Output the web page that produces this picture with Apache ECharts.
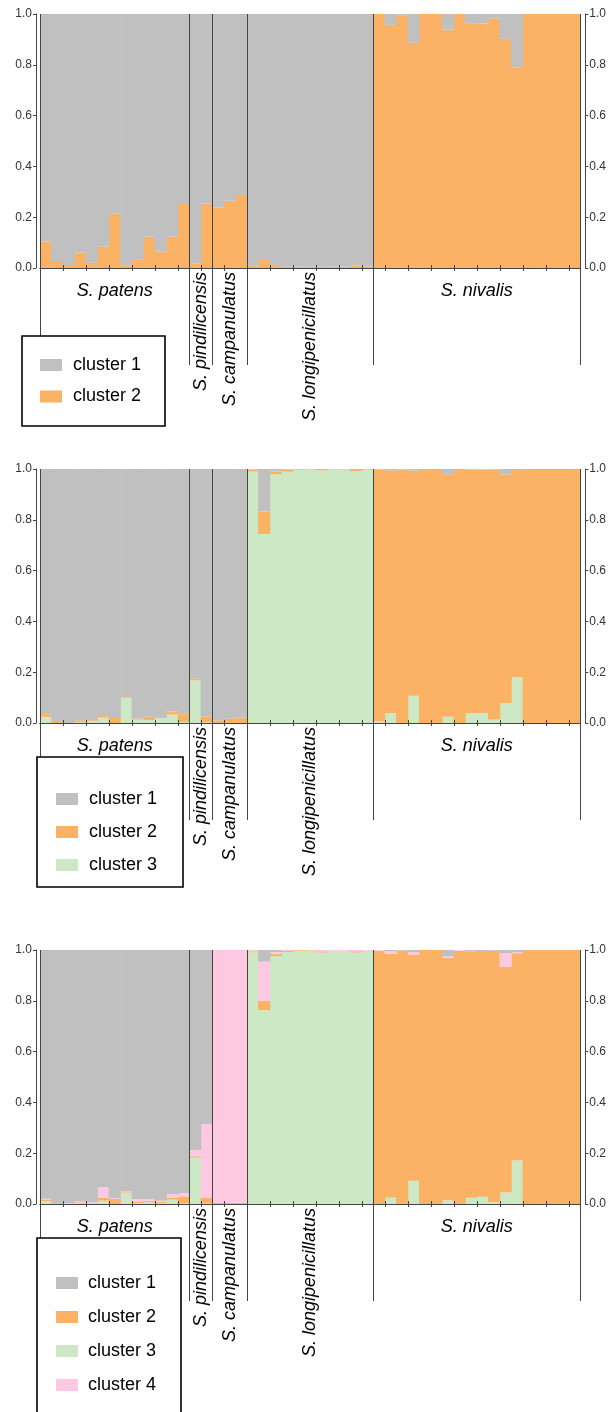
<!DOCTYPE html>
<html>
<head>
<meta charset="utf-8">
<script src="https://cdn.jsdelivr.net/npm/echarts@6/dist/echarts.min.js"></script>
<style>
html,body{margin:0;padding:0;background:#fff;}
#chart{width:609px;height:1412px;}
</style>
</head>
<body>
<div id="chart"></div>
<script>
// ---------- DATA ----------
const groupNames = ["S. patens", "S. pindilicensis", "S. campanulatus", "S. longipenicillatus", "S. nivalis"];
const groupSizes = [13, 2, 3, 11, 18];
const clusterNames = ["cluster 1", "cluster 2", "cluster 3", "cluster 4"];
const yTicks = [0, 0.2, 0.4, 0.6, 0.8, 1.0];

// K = 2
const A_c1 = [0.896,0.972,0.988,0.940,0.979,0.916,0.786,0.989,0.965,0.877,0.936,0.877,0.744, 0.983,0.747, 0.761,0.735,0.713, 0.991,0.965,0.992,0.995,0.995,0.995,0.995,0.995,0.995,0.990,0.995, 0,0.043,0.005,0.114,0,0,0.062,0,0.039,0.038,0.017,0.098,0.210,0,0,0,0,0];
const A_c2 = [0.104,0.028,0.012,0.060,0.021,0.084,0.214,0.011,0.035,0.123,0.064,0.123,0.256, 0.017,0.253, 0.239,0.265,0.287, 0.009,0.035,0.008,0.005,0.005,0.005,0.005,0.005,0.005,0.010,0.005, 1,0.957,0.995,0.886,1,1,0.938,1,0.961,0.962,0.983,0.902,0.790,1,1,1,1,1];

// K = 3
const B_c1 = [0.965,0.996,1,0.989,0.989,0.969,0.980,0.899,0.982,0.975,0.976,0.955,0.965, 0.826,0.975, 0.990,0.983,0.979, 0.002,0.168,0.010,0.003,0,0,0,0,0,0,0, 0.002,0.006,0.003,0.006,0,0,0.021,0,0.003,0.002,0.002,0.022,0.004,0,0,0,0,0];
const B_c2 = [0.011,0.004,0,0.007,0.003,0.010,0.020,0.003,0.005,0.013,0.004,0.012,0.031, 0.007,0.022, 0.010,0.017,0.021, 0.008,0.088,0.010,0.008,0.003,0.002,0.005,0.002,0.002,0.008,0.003, 0.992,0.956,0.997,0.887,1,1,0.954,1,0.960,0.959,0.984,0.900,0.816,1,1,1,1,1];
const B_c3 = [0.024,0,0,0.004,0.008,0.021,0,0.098,0.013,0.012,0.020,0.033,0.004, 0.167,0.003, 0,0,0, 0.990,0.744,0.980,0.989,0.997,0.998,0.995,0.998,0.998,0.992,0.997, 0.006,0.038,0,0.107,0,0,0.025,0,0.037,0.039,0.014,0.078,0.180,0,0,0,0,0];

// K = 4
const C_c1 = [0.979,0.997,0.996,0.990,0.993,0.934,0.977,0.951,0.980,0.980,0.987,0.962,0.958, 0.787,0.685, 0,0,0, 0,0.046,0.009,0,0,0,0,0,0,0,0, 0,0.004,0.003,0.009,0,0,0.026,0,0.006,0.004,0.003,0.012,0.010,0,0,0,0,0];
const C_c2 = [0.008,0.003,0,0.004,0,0.011,0.020,0.003,0.007,0.006,0.005,0.007,0.028, 0.006,0.024, 0.005,0.005,0.005, 0.004,0.037,0.008,0.004,0.003,0.002,0.005,0,0,0.005,0, 0.997,0.959,0.997,0.890,1,1,0.954,0.997,0.969,0.967,0.990,0.889,0.816,1,1,1,1,1];
const C_c3 = [0.010,0,0,0.003,0,0.013,0,0.043,0.003,0.007,0.004,0.017,0.002, 0.182,0.002, 0,0,0, 0.991,0.763,0.976,0.992,0.997,0.998,0.990,0.997,0.997,0.990,0.997, 0,0.026,0,0.092,0,0,0.015,0,0.025,0.029,0.007,0.045,0.171,0,0,0,0,0];
const C_c4 = [0.003,0,0.004,0.003,0.007,0.042,0.003,0.003,0.010,0.007,0.004,0.014,0.012, 0.025,0.289, 0.995,0.995,0.995, 0.005,0.154,0.007,0.004,0,0,0.005,0.003,0.003,0.005,0.003, 0.003,0.011,0,0.009,0,0,0.005,0.003,0,0,0,0.054,0.003,0,0,0,0,0];

// ---------- STYLE / LAYOUT ----------
const colors = {"cluster 1": "#c0c0c0", "cluster 2": "#fbb264", "cluster 3": "#cce8c4", "cluster 4": "#fdc8e2"};
const FONT = "'Liberation Sans', Arial, Helvetica, sans-serif";
const AX = "#444";

const individuals = [];
{ let n = groupSizes.reduce((a,b)=>a+b,0); for (let i = 1; i <= n; i++) individuals.push(String(i)); }

// stacking from bottom to top
const panels = [
  { top: 14,  stack: [["cluster 2", A_c2], ["cluster 1", A_c1]],
    legend: {x: 22, y: 336, w: 143, h: 90, sx: 40, tx: 73, y0: 365, step: 31.5, n: 2} },
  { top: 469, stack: [["cluster 3", B_c3], ["cluster 2", B_c2], ["cluster 1", B_c1]],
    legend: {x: 37, y: 757, w: 146, h: 130, sx: 56, tx: 89, y0: 799, step: 33, n: 3} },
  { top: 950, stack: [["cluster 3", C_c3], ["cluster 2", C_c2], ["cluster 4", C_c4], ["cluster 1", C_c1]],
    legend: {x: 37, y: 1238, w: 144, h: 190, sx: 56, tx: 88, y0: 1283, step: 34, n: 4} }
];
const PH = 254;

const grid = [], xAxis = [], yAxis = [], series = [];
panels.forEach((p, k) => {
  grid.push({ left: 40, right: 27, top: p.top, height: PH });
});
panels.forEach((p, k) => {
  xAxis.push({ type: 'category', gridIndex: k, data: individuals, position: 'bottom',
    boundaryGap: true, z: 10,
    axisLine: { show: true, lineStyle: { color: AX, width: 1 } },
    axisTick: { show: true, inside: true, length: 3, lineStyle: { color: AX } },
    axisLabel: { show: false }, splitLine: { show: false } });
});
panels.forEach((p, k) => {
  xAxis.push({ type: 'category', gridIndex: k, data: individuals, position: 'top',
    boundaryGap: true, z: 10,
    axisLine: { show: true, lineStyle: { color: AX, width: 1 } },
    axisTick: { show: true, inside: true, length: 3, lineStyle: { color: AX } },
    axisLabel: { show: false }, splitLine: { show: false } });
});
const yCommon = (k, pos, off) => ({
  type: 'value', gridIndex: k, position: pos, offset: off, min: 0, max: 1, interval: 0.2,
  axisLine: { show: true, lineStyle: { color: AX, width: 1 } },
  axisTick: { show: true, inside: false, length: 3, lineStyle: { color: AX } },
  axisLabel: { show: true, fontSize: 12, color: '#333', fontFamily: FONT, margin: 4,
    formatter: v => yTicks.includes(+v.toFixed(1)) ? v.toFixed(1) : '' },
  splitLine: { show: false }
});
panels.forEach((p, k) => yAxis.push(yCommon(k, 'left', 4)));
panels.forEach((p, k) => yAxis.push(yCommon(k, 'right', 5)));

panels.forEach((p, k) => {
  p.stack.forEach(([name, arr]) => {
    series.push({ type: 'bar', name: name, xAxisIndex: k, yAxisIndex: k, stack: 'p' + k,
      barWidth: '106%', data: arr,
      itemStyle: { color: colors[name] }, silent: true, animation: false });
  });
});

const chart = echarts.init(document.getElementById('chart'), null, { renderer: 'canvas' });
chart.setOption({ animation: false, backgroundColor: '#fff', grid, xAxis, yAxis, series });

// ---------- dividers, group labels, legends (positions from the axes) ----------
const graphics = [];
const bounds = [0];
groupSizes.forEach(s => bounds.push(bounds[bounds.length - 1] + s));
panels.forEach((p, k) => {
  const c0 = chart.convertToPixel({ xAxisIndex: k }, 0);
  const c1 = chart.convertToPixel({ xAxisIndex: k }, 1);
  const half = (c1 - c0) / 2;
  const n = individuals.length;
  const bx = b => b < n ? chart.convertToPixel({ xAxisIndex: k }, b) - half
                        : chart.convertToPixel({ xAxisIndex: k }, n - 1) + half;
  const yTop = chart.convertToPixel({ yAxisIndex: k }, 1);
  const yBot = chart.convertToPixel({ yAxisIndex: k }, 0);
  bounds.forEach((b, i) => {
    const x = Math.round(bx(b)) + 0.5;
    const yEnd = i === 0 ? p.legend.y : yBot + 97;
    graphics.push({ type: 'line', silent: true, z: 100,
      shape: { x1: x, y1: yTop, x2: x, y2: yEnd },
      style: { stroke: AX, lineWidth: 1 } });
  });
  groupNames.forEach((g, i) => {
    const cx = (bx(bounds[i]) + bx(bounds[i + 1])) / 2;
    const rotated = groupSizes[i] < 12;
    if (rotated) {
      graphics.push({ type: 'text', silent: true, z: 100, x: cx, y: yBot + 4, rotation: Math.PI / 2,
        style: { text: g, font: 'italic 18px ' + FONT, fill: '#000', align: 'right', verticalAlign: 'middle' } });
    } else {
      graphics.push({ type: 'text', silent: true, z: 100, x: cx, y: yBot + 23,
        style: { text: g, font: 'italic 18px ' + FONT, fill: '#000', align: 'center', verticalAlign: 'middle' } });
    }
  });
  const L = p.legend;
  graphics.push({ type: 'rect', silent: true, z: 100,
    shape: { x: L.x, y: L.y, width: L.w, height: L.h },
    style: { fill: '#fff', stroke: '#000', lineWidth: 1.6 } });
  for (let j = 0; j < L.n; j++) {
    const cy = L.y0 + j * L.step;
    graphics.push({ type: 'rect', silent: true, z: 101,
      shape: { x: L.sx, y: cy - 6, width: 22, height: 12 },
      style: { fill: colors[clusterNames[j]] } });
    graphics.push({ type: 'text', silent: true, z: 101, x: L.tx, y: cy,
      style: { text: clusterNames[j], font: '18px ' + FONT, fill: '#000', align: 'left', verticalAlign: 'middle' } });
  }
});
chart.setOption({ graphic: graphics });
</script>
</body>
</html>
